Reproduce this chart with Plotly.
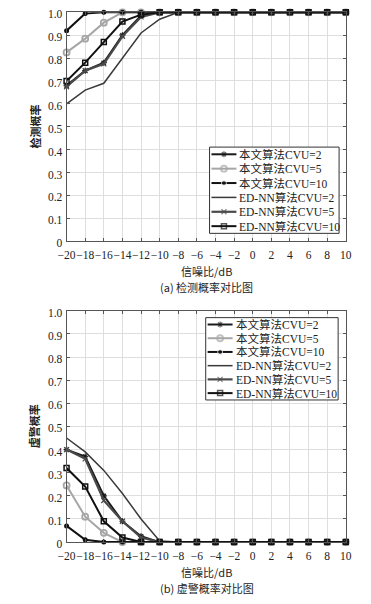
import plotly.graph_objects as go

snr = [-20, -18, -16, -14, -12, -10, -8, -6, -4, -2, 0, 2, 4, 6, 8, 10]

names = ["本文算法CVU=2", "本文算法CVU=5", "本文算法CVU=10",
         "ED-NN算法CVU=2", "ED-NN算法CVU=5", "ED-NN算法CVU=10"]

# detection probability
pd_ours2 = [0.68, 0.745, 0.78, 0.90, 0.985, 1.0, 1, 1, 1, 1, 1, 1, 1, 1, 1, 1]
pd_ours5 = [0.825, 0.885, 0.955, 1.0, 1.0, 1.0, 1, 1, 1, 1, 1, 1, 1, 1, 1, 1]
pd_ours10 = [0.92, 0.995, 1.0, 1.0, 1.0, 1.0, 1, 1, 1, 1, 1, 1, 1, 1, 1, 1]
pd_ed2 = [0.60, 0.66, 0.69, 0.80, 0.91, 0.97, 1, 1, 1, 1, 1, 1, 1, 1, 1, 1]
pd_ed5 = [0.675, 0.745, 0.775, 0.895, 0.98, 1.0, 1, 1, 1, 1, 1, 1, 1, 1, 1, 1]
pd_ed10 = [0.70, 0.78, 0.87, 0.96, 0.99, 1.0, 1, 1, 1, 1, 1, 1, 1, 1, 1, 1]

# false alarm probability
pf_ours2 = [0.40, 0.37, 0.20, 0.09, 0.025, 0.0, 0, 0, 0, 0, 0, 0, 0, 0, 0, 0]
pf_ours5 = [0.245, 0.11, 0.04, 0.0, 0.0, 0.0, 0, 0, 0, 0, 0, 0, 0, 0, 0, 0]
pf_ours10 = [0.07, 0.01, 0.0, 0.0, 0.0, 0.0, 0, 0, 0, 0, 0, 0, 0, 0, 0, 0]
pf_ed2 = [0.45, 0.39, 0.31, 0.21, 0.10, 0.005, 0, 0, 0, 0, 0, 0, 0, 0, 0, 0]
pf_ed5 = [0.40, 0.36, 0.18, 0.09, 0.02, 0.0, 0, 0, 0, 0, 0, 0, 0, 0, 0, 0]
pf_ed10 = [0.32, 0.24, 0.09, 0.02, 0.0, 0.0, 0, 0, 0, 0, 0, 0, 0, 0, 0, 0]

x_ticks = list(range(-20, 11, 2))
y_ticks = [0, 0.1, 0.2, 0.3, 0.4, 0.5, 0.6, 0.7, 0.8, 0.9, 1.0]
y_ticktext = ["0", "0.1", "0.2", "0.3", "0.4", "0.5", "0.6", "0.7", "0.8", "0.9", "1.0"]

W, H = 371, 604

styles = [
    dict(color="#1a1a1a", width=2, marker=dict(symbol="asterisk-open", size=5, line=dict(width=1.2, color="#1a1a1a"))),
    dict(color="#a6a6a6", width=2, marker=dict(symbol="circle-open", size=6, line=dict(width=1.8, color="#a6a6a6"))),
    dict(color="#111111", width=2, marker=dict(symbol="circle", size=5, color="#111111")),
    dict(color="#3a3a3a", width=1.5, marker=None),
    dict(color="#4a4a4a", width=2.2, marker=dict(symbol="x-thin-open", size=5, line=dict(width=1.2, color="#4a4a4a"))),
    dict(color="#111111", width=2, marker=dict(symbol="square-open", size=5, line=dict(width=1.5, color="#111111"))),
]

serif = "Liberation Serif, Times New Roman, Noto Sans CJK SC"
cjk = "Noto Sans CJK SC"

fig = go.Figure()


def add_set(data, xa, ya):
    for name, y, st in zip(names, data, styles):
        mode = "lines+markers" if st["marker"] else "lines"
        kw = dict(marker=st["marker"]) if st["marker"] else {}
        fig.add_trace(go.Scatter(
            x=snr, y=y, name=name, mode=mode, showlegend=False,
            line=dict(color=st["color"], width=st["width"]),
            xaxis=xa, yaxis=ya, cliponaxis=False, hoverinfo="skip", **kw))


add_set([pd_ours2, pd_ours5, pd_ours10, pd_ed2, pd_ed5, pd_ed10], "x", "y")
add_set([pf_ours2, pf_ours5, pf_ours10, pf_ed2, pf_ed5, pf_ed10], "x2", "y2")

axis_common = dict(
    showline=True, linecolor="#555555", linewidth=1, mirror="ticks",
    ticks="inside", ticklen=3, tickcolor="#555555",
    showgrid=True, gridcolor="#dedede", gridwidth=1, zeroline=False,
    tickfont=dict(family=serif, size=11.5, color="#222222"),
)
x_extra = dict(range=[-20, 10], tickvals=x_ticks, tickangle=0, ticklabelstandoff=3)
y_extra = dict(range=[0, 1], tickvals=y_ticks, ticktext=y_ticktext, ticklabelshift=2,
               ticklabelstandoff=1)

xd = [60 / W, 351 / W]

fig.update_layout(
    width=W, height=H,
    margin=dict(l=0, r=0, t=0, b=0),
    paper_bgcolor="white", plot_bgcolor="rgba(0,0,0,0)",
    showlegend=False,
    xaxis=dict(domain=xd, anchor="y", **x_extra, **axis_common),
    yaxis=dict(domain=[(H - 242) / H, (H - 8.5) / H], anchor="x", **y_extra, **axis_common),
    xaxis2=dict(domain=xd, anchor="y2", **x_extra, **axis_common),
    yaxis2=dict(domain=[(H - 549) / H, (H - 313) / H], anchor="x2", **y_extra, **axis_common),
    # pixel-coordinate overlay used only for the legend boxes and labels
    xaxis3=dict(domain=[0, 1], range=[0, W], visible=False, anchor="y3"),
    yaxis3=dict(domain=[0, 1], range=[H, 0], visible=False, anchor="x3"),
)

legend_boxes = [
    (209, 146, 344, 234),
    (205, 320, 343, 404),
]
for (l, t, r, b) in legend_boxes:
    fig.add_shape(type="rect", xref="x3", yref="y3", x0=l, x1=r, y0=t, y1=b,
                  fillcolor="white", line=dict(color="#333333", width=1), layer="between")
    row = (b - t) / 6
    for i, (name, st) in enumerate(zip(names, styles)):
        yc = t + row * (i + 0.5)
        lx0, lx1 = l + 2, l + 28
        mode = "lines+markers" if st["marker"] else "lines"
        kw = {}
        if st["marker"]:
            m = dict(st["marker"])
            m["size"] = [0, st["marker"]["size"], 0]
            kw["marker"] = m
        fig.add_trace(go.Scatter(
            x=[lx0, (lx0 + lx1) / 2, lx1], y=[yc, yc, yc], mode=mode, showlegend=False,
            line=dict(color=st["color"], width=st["width"]),
            xaxis="x3", yaxis="y3", hoverinfo="skip", cliponaxis=False, **kw))
        fig.add_annotation(text=name, x=lx1 + 1, y=yc, xref="x3", yref="y3",
                           showarrow=False, xanchor="left", yanchor="middle",
                           font=dict(family=serif, size=11.5, color="#222222"))

annos = [
    dict(text="<b>检测概率</b>", x=27, y=125, angle=-90),
    dict(text="<b>虚警概率</b>", x=27, y=431, angle=-90),
    dict(text="信噪比/dB", x=206, y=272, angle=0),
    dict(text="信噪比/dB", x=206, y=579, angle=0),
    dict(text="(a) 检测概率对比图", x=206, y=289, angle=0),
    dict(text="(b) 虚警概率对比图", x=206, y=595.5, angle=0),
]
for a in annos:
    fig.add_annotation(
        text=a["text"], x=a["x"], y=a["y"], xref="x3", yref="y3",
        showarrow=False, textangle=a["angle"], xanchor="center", yanchor="middle",
        font=dict(family=cjk, size=11, color="#222222"))

fig.write_html("out.html")
